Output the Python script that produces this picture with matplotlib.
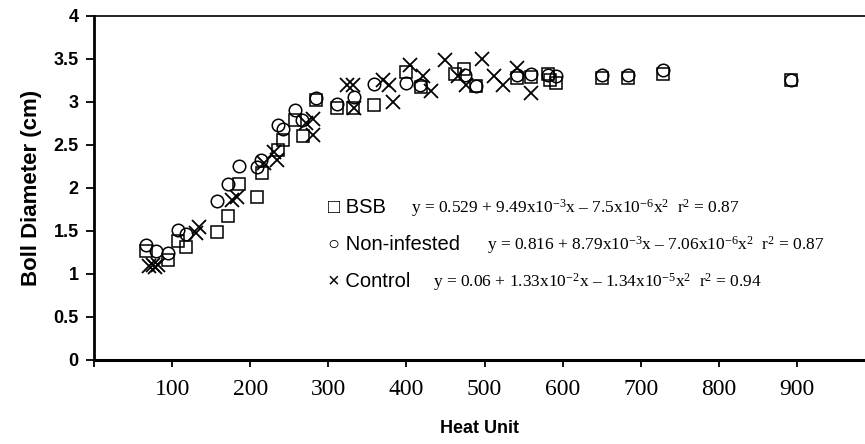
import numpy as np
import matplotlib.pyplot as plt

plt.rcParams['mathtext.fontset'] = 'custom'
plt.rcParams['mathtext.rm'] = 'Liberation Serif'
plt.rcParams['mathtext.it'] = 'Liberation Serif:italic'

# %% Data

bsb_x = [67, 95, 108, 118, 157, 171, 186, 208, 215, 235, 242, 257, 267, 284, 311, 332, 359,
         400, 418, 462, 474, 489, 541, 559, 581, 584, 592, 650, 684, 729, 892]
bsb_y = [1.27, 1.16, 1.38, 1.31, 1.49, 1.67, 2.05, 1.90, 2.18, 2.44, 2.56, 2.79, 2.60, 3.02, 2.93, 2.93, 2.97,
         3.35, 3.18, 3.33, 3.38, 3.19, 3.28, 3.29, 3.32, 3.26, 3.22, 3.28, 3.28, 3.33, 3.25]

noninf_x = [67, 79, 95, 107, 118, 157, 171, 186, 208, 214, 235, 242, 257, 266, 284, 311, 333, 359,
            400, 417, 475, 489, 541, 559, 581, 592, 650, 684, 729, 892]
noninf_y = [1.34, 1.27, 1.24, 1.51, 1.47, 1.85, 2.05, 2.26, 2.24, 2.33, 2.73, 2.69, 2.91, 2.79, 3.05, 2.98, 3.06, 3.21,
            3.22, 3.20, 3.31, 3.19, 3.31, 3.33, 3.31, 3.30, 3.31, 3.31, 3.37, 3.25]

control_x = [70, 75, 78, 82, 131, 135, 176, 183, 217, 230, 234, 272, 280, 280, 324, 332, 333,
             370, 377, 383, 405, 421, 432, 449, 466, 476, 497, 512, 523, 541, 560]
control_y = [1.09, 1.10, 1.08, 1.10, 1.48, 1.55, 1.86, 1.90, 2.29, 2.42, 2.33, 2.75, 2.80, 2.62, 3.20, 3.20, 2.93,
             3.26, 3.20, 3.00, 3.43, 3.30, 3.13, 3.49, 3.30, 3.20, 3.50, 3.30, 3.20, 3.39, 3.11]

x_ticks = [0, 100, 200, 300, 400, 500, 600, 700, 800, 900]
x_ticklabels = ['', '100', '200', '300', '400', '500', '600', '700', '800', '900']
y_ticks = [0, 0.5, 1, 1.5, 2, 2.5, 3, 3.5, 4]
y_ticklabels = ['0', '0.5', '1', '1.5', '2', '2.5', '3', '3.5', '4']

legend_names = ['BSB', 'Non-infested', 'Control']
legend_glyphs = ['\u25a1', '\u25cb', '\u00d7']
equations = [
    'y = 0.529 + 9.49x10$^{-3}$x \u2013 7.5x10$^{-6}$x$^{2}$  r$^{2}$ = 0.87',
    'y = 0.816 + 8.79x10$^{-3}$x \u2013 7.06x10$^{-6}$x$^{2}$  r$^{2}$ = 0.87',
    'y = 0.06 + 1.33x10$^{-2}$x \u2013 1.34x10$^{-5}$x$^{2}$  r$^{2}$ = 0.94',
]

# %% Plot

fig = plt.figure(figsize=(8.65, 4.44), dpi=100, facecolor='w')
ax = fig.add_axes([0.1087, 0.1892, 0.8913, 0.7748])

mk = dict(linestyle='none', mfc='none', mec='black', ms=9, mew=1.1)
ax.plot(bsb_x, bsb_y, marker='s', **mk)
ax.plot(noninf_x, noninf_y, marker='o', **mk)
ax.plot(control_x, control_y, marker='x', linestyle='none', color='black', ms=9.5, mew=1.3)

ax.set_xlim(0, 987)
ax.set_ylim(0, 4)

ax.spines['right'].set_visible(False)
ax.spines['left'].set_linewidth(2)
ax.spines['bottom'].set_linewidth(2.2)
ax.spines['top'].set_linewidth(1.2)

ax.set_xticks(x_ticks)
ax.set_xticklabels(x_ticklabels, family='Liberation Serif', size=17)
ax.set_yticks(y_ticks)
ax.set_yticklabels(y_ticklabels, family='Liberation Sans', weight='bold', size=13)
ax.tick_params(axis='x', direction='out', length=5, width=1.3, pad=9)
ax.tick_params(axis='y', direction='out', length=6, width=1.3, pad=5)

ax.set_xlabel('Heat Unit', family='Liberation Sans', weight='bold', size=13, labelpad=14)
ax.set_ylabel('Boll Diameter (cm)', family='Liberation Sans', weight='bold', size=16, labelpad=8)

# Legend with equations (written like the original text box)
leg_y = [0.443, 0.335, 0.227]
eq_x = [0.411, 0.510, 0.440]
for name, glyph, eq, yy, ex in zip(legend_names, legend_glyphs, equations, leg_y, eq_x):
    ax.text(0.303, yy, glyph + ' ' + name, transform=ax.transAxes, size=14.5,
            family=['Liberation Sans', 'DejaVu Sans'], va='center')
    ax.text(ex, yy, eq, transform=ax.transAxes, size=12.5,
            family='Liberation Serif', va='center')

plt.savefig('out.png', dpi=100)
